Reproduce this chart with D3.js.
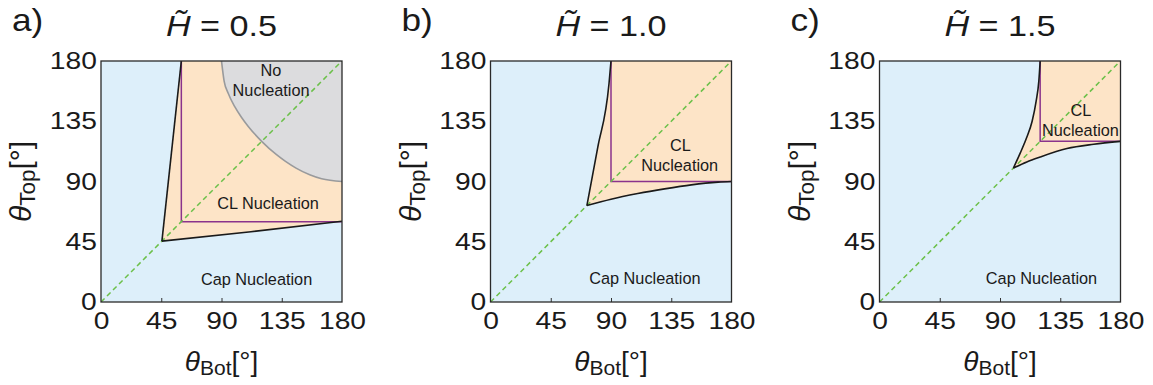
<!DOCTYPE html>
<html><head><meta charset="utf-8">
<script src="https://cdn.jsdelivr.net/npm/d3@7"></script>
<style>
body{margin:0;background:#fff;}
svg text{font-family:"Liberation Sans",Arial,Helvetica,sans-serif;}
</style></head>
<body><svg id="chart" width="1153" height="385"></svg>
<script>
// ---------- data ----------
const panelLetters = ["a)", "b)", "c)"];
const hTildeValues = ["0.5", "1.0", "1.5"];
const tickValues = [0, 45, 90, 135, 180];
const diagonal = [[0, 0], [180, 180]];

const upperA = [[45.5, 45.5], [60, 180]];
const lowerA = [[45.5, 45.5], [112, 52.5], [180, 60.3]];
const purpleA = [[60, 180], [60, 60], [180, 60]];
const noNucA = [[90, 180], [92, 164.8], [95, 155.9], [100, 145.7], [105, 137.8], [110, 131.1], [120, 120],
                [131.1, 110], [137.8, 105], [145.7, 100], [155.9, 95], [164.8, 92], [180, 90]];

const upperB = [[72, 72], [80, 115], [88.5, 163], [90, 180]];
const lowerB = [[72, 72], [90, 76.8], [110, 81], [130, 84.5], [150, 87.5], [170, 89.5], [180, 90]];
const purpleB = [[90, 180], [90, 90], [180, 90]];

const upperC = [[100, 100], [105, 111], [110, 123], [114, 135], [117, 150], [119, 165], [120, 180]];
const lowerC = [[100, 100], [110, 104.6], [120, 108.3], [140, 114.6], [160, 117.8], [180, 120]];
const purpleC = [[120, 180], [120, 120], [180, 120]];

const regionLabelsA = [["No", 127, 168.5], ["Nucleation", 127, 153.7], ["CL Nucleation", 124.8, 69.8], ["Cap Nucleation", 116.2, 12.5]];
const regionLabelsB = [["CL", 141.9, 112.8], ["Nucleation", 141.3, 97.9], ["Cap Nucleation", 115.3, 13.2]];
const regionLabelsC = [["CL", 150.5, 138.7], ["Nucleation", 150.1, 123.8], ["Cap Nucleation", 121, 13.2]];

const panels = [
  {letter: panelLetters[0], h: hTildeValues[0], upper: upperA, lower: lowerA, purple: purpleA, noNuc: noNucA, labels: regionLabelsA, curved: false},
  {letter: panelLetters[1], h: hTildeValues[1], upper: upperB, lower: lowerB, purple: purpleB, noNuc: null, labels: regionLabelsB, curved: true},
  {letter: panelLetters[2], h: hTildeValues[2], upper: upperC, lower: lowerC, purple: purpleC, noNuc: null, labels: regionLabelsC, curved: true}
];

// ---------- layout ----------
const lefts = [101, 490.5, 879.5];
const plotTop = 61, W = 241, H = 241;
const C = {blue: "#ddeffa", peach: "#fde4c7", gray: "#dcdcde", grayLine: "#999a9c", purple: "#8a338c", green: "#6cc04a", black: "#1a1a1a"};

const svg = d3.select("#chart");
const x = d3.scaleLinear().domain([0, 180]).range([0, W]);
const y = d3.scaleLinear().domain([0, 180]).range([H, 0]);

panels.forEach((p, i) => {
  const g = svg.append("g").attr("transform", `translate(${lefts[i]},${plotTop})`);
  const clipId = "clip" + i;
  g.append("clipPath").attr("id", clipId).append("rect").attr("width", W).attr("height", H);
  const plot = g.append("g").attr("clip-path", `url(#${clipId})`);

  const curve = p.curved ? d3.curveMonotoneX : d3.curveLinear;
  const line = d3.line().x(d => x(d[0])).y(d => y(d[1])).curve(curve);
  const straight = d3.line().x(d => x(d[0])).y(d => y(d[1]));

  plot.append("rect").attr("width", W).attr("height", H).attr("fill", C.blue);

  // CL nucleation region
  const upPath = line(p.upper);
  const lowRev = line(p.lower.slice().reverse());
  const corner = [x(180), y(180)];
  const lowStart = p.lower[p.lower.length - 1];
  const peachD = upPath + `L${corner[0]},${corner[1]}L${x(lowStart[0])},${y(lowStart[1])}` + lowRev.replace(/^M/, "L") + "Z";
  plot.append("path").attr("d", peachD).attr("fill", C.peach);

  if (p.noNuc) {
    const gl = d3.line().x(d => x(d[0])).y(d => y(d[1])).curve(d3.curveMonotoneX);
    const gd = gl(p.noNuc) + `L${x(180)},${y(180)}Z`;
    plot.append("path").attr("d", gd).attr("fill", C.gray);
    plot.append("path").attr("d", gl(p.noNuc)).attr("fill", "none").attr("stroke", C.grayLine).attr("stroke-width", 1.6);
  }

  plot.append("path").attr("d", straight(p.purple)).attr("fill", "none").attr("stroke", C.purple).attr("stroke-width", 1.5);
  plot.append("path").attr("d", straight(diagonal)).attr("fill", "none").attr("stroke", C.green)
      .attr("stroke-width", 1.5).attr("stroke-dasharray", "5,3.5");
  plot.append("path").attr("d", line(p.upper)).attr("fill", "none").attr("stroke", C.black).attr("stroke-width", 1.6);
  plot.append("path").attr("d", line(p.lower)).attr("fill", "none").attr("stroke", C.black).attr("stroke-width", 1.6);

  // region labels
  p.labels.forEach(l => {
    g.append("text").attr("x", x(l[1])).attr("y", y(l[2])).attr("text-anchor", "middle")
      .attr("font-size", 16.3).attr("fill", "#1a1a1a").text(l[0]);
  });

  // axes
  const xAxis = d3.axisBottom(x).tickValues(tickValues).tickSize(-4).tickPadding(10).tickFormat(d3.format("d"));
  const yAxis = d3.axisLeft(y).tickValues(tickValues).tickSize(0).tickPadding(3.5).tickFormat(d3.format("d"));
  const gx = g.append("g").attr("transform", `translate(0,${H})`).call(xAxis);
  const gy = g.append("g").call(yAxis);
  [gx, gy].forEach(ax => {
    ax.select(".domain").remove();
    ax.selectAll("text").attr("font-size", 23.5).attr("fill", "#1a1a1a")
      .attr("font-family", "'Liberation Sans', Arial, sans-serif").attr("transform", "scale(1.2,1)");
  });
  gx.selectAll("line").attr("stroke", "#333").attr("stroke-width", 1);
  gx.selectAll(".tick").filter(d => d === 0 || d === 180).select("line").remove();

  g.append("rect").attr("width", W).attr("height", H).attr("fill", "none").attr("stroke", "#2a2a2a").attr("stroke-width", 1.3);

  // axis titles
  const xl = g.append("text").attr("x", W / 2).attr("y", 310).attr("text-anchor", "middle").attr("fill", "#1a1a1a");
  xl.append("tspan").attr("font-size", 28).attr("font-style", "italic").text("θ");
  xl.append("tspan").attr("font-size", 21).attr("dy", 4).text("Bot");
  xl.append("tspan").attr("font-size", 28).attr("dy", -4).text("[°]");

  const yl = g.append("text").attr("transform", `translate(${-70},${H / 2}) rotate(-90)`).attr("text-anchor", "middle").attr("fill", "#1a1a1a");
  yl.append("tspan").attr("font-size", 30).attr("font-style", "italic").text("θ");
  yl.append("tspan").attr("font-size", 22.5).attr("dy", 4).text("Top");
  yl.append("tspan").attr("font-size", 30).attr("dy", -4).text("[°]");

  // titles
  const t = g.append("text").attr("transform", `translate(${W / 2},${-25}) scale(1.18,1)`).attr("text-anchor", "middle")
    .attr("font-size", 29).attr("fill", "#1a1a1a");
  t.append("tspan").attr("font-style", "italic").text("H\u0303");
  t.append("tspan").text(" = " + p.h);

  g.append("text").attr("transform", `translate(${-89},${-30}) scale(1.1,1)`)
    .attr("font-size", 32).attr("fill", "#1a1a1a").text(p.letter);
});
</script></body></html>
